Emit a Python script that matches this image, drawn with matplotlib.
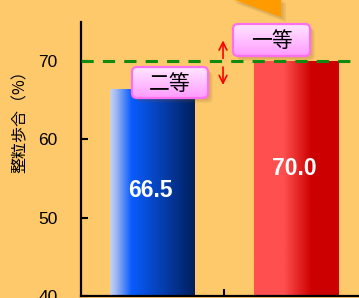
import numpy as np
import matplotlib.pyplot as plt
from matplotlib.colors import LinearSegmentedColormap
from matplotlib.patches import FancyBboxPatch, Polygon

grades = ['二等', '一等']
values = [66.5, 70.0]
standard = 70
yticks = [40, 50, 60, 70]

bg = '#fec96a'
blue_cmap = LinearSegmentedColormap.from_list(
    'blue', [(0, '#c6d2ee'), (0.06, '#a9bdf2'), (0.25, '#0a5cff'), (1, '#001f5c')])
red_cmap = LinearSegmentedColormap.from_list(
    'red', [(0, '#ff4f4f'), (0.35, '#ff4f4f'), (0.68, '#cc0000'), (1, '#cc0000')])
pink_cmap = LinearSegmentedColormap.from_list('pink', ['#ff9bff', '#ffe6ff'])

fig = plt.figure(figsize=(3.59, 2.98), dpi=100, facecolor=bg)
ax = fig.add_axes([81 / 359, 2 / 298, 278 / 359, 274 / 298])
ax.set_facecolor(bg)

x = np.arange(len(values))
bars = ax.bar(x, [v - 40 for v in values], bottom=40, width=0.59, color='none', zorder=2)
grad = np.linspace(0, 1, 256).reshape(1, -1)
for bar, cmap in zip(bars, [blue_cmap, red_cmap]):
    x0, y0 = bar.get_x(), bar.get_y()
    im = ax.imshow(grad, cmap=cmap, aspect='auto', zorder=2,
                   extent=[x0, x0 + bar.get_width(), y0, y0 + bar.get_height()])
    im.set_clip_path(bar)

for xi, v in zip(x, values):
    ax.text(xi - 0.01, v * 0.805, f'{v:.1f}', color='white', fontsize=16.5, fontweight='bold',
            family='Liberation Sans', ha='center', va='center', zorder=4)

ax.axhline(standard, color='#108a10', lw=2.2, dashes=(4, 3), zorder=3)
ax.annotate('', xy=(0.493, 73.0), xytext=(0.493, 70.0),
            arrowprops=dict(arrowstyle='->', color='red', lw=1.2, mutation_scale=14), zorder=4)
ax.annotate('', xy=(0.493, 66.6), xytext=(0.493, 69.6),
            arrowprops=dict(arrowstyle='->', color='red', lw=1.2, mutation_scale=14), zorder=4)

ax.set_xlim(-0.493, 1.437)
ax.set_ylim(40, 75)
ax.set_yticks(yticks)
ax.set_yticklabels([str(t) for t in yticks], family='Liberation Sans', fontsize=12.5)
ax.set_xticks([0.5])
ax.set_xticklabels([])
ax.tick_params(axis='y', direction='in', length=5, width=1.5, pad=17)
ax.tick_params(axis='x', direction='in', length=5, width=1.5)
for s in ['top', 'right']:
    ax.spines[s].set_visible(False)
for s in ['left', 'bottom']:
    ax.spines[s].set_linewidth(1.6)
ax.spines['left'].set_bounds(40, 75)

fig.text(20 / 359, 1 - 118 / 298, '整粒歩合（%）', rotation=90, fontsize=11.5,
         family=['Noto Sans CJK JP', 'DejaVu Sans'], ha='center', va='center')

# overlay in pixel coordinates for callouts
ov = fig.add_axes([0, 0, 1, 1])
ov.set_xlim(0, 359)
ov.set_ylim(298, 0)
ov.axis('off')
ov.patch.set_alpha(0)

# orange callout tip with soft shadow
tri = [(230, -2), (281, -2), (281, 17)]
for k in range(6, 0, -1):
    ov.add_patch(Polygon([(px + k * 0.9, py + k * 0.9) for px, py in tri],
                         closed=True, color='#8a6a30', alpha=0.06, lw=0))
ov.add_patch(Polygon(tri, closed=True, color='#ff9a00', lw=0))

boxes = [(132, 67, 76, 31, grades[0]), (233, 24, 77, 32, grades[1])]
for bx, by, bw, bh, label in boxes:
    for k in range(5, 0, -1):
        ov.add_patch(FancyBboxPatch((bx + k, by + k), bw, bh, boxstyle='round,pad=0,rounding_size=5',
                                    color='#7a5a30', alpha=0.07, lw=0))
    box = FancyBboxPatch((bx, by), bw, bh, boxstyle='round,pad=0,rounding_size=5',
                         facecolor='none', edgecolor='#ff70f0', lw=1.6, zorder=3)
    ov.add_patch(box)
    im = ov.imshow(grad.T, cmap=pink_cmap, aspect='auto', extent=[bx, bx + bw, by + bh, by],
                   origin='lower', zorder=2)
    im.set_clip_path(box)
    ov.text(bx + bw / 2, by + bh / 2 + 1, label, fontsize=15, family=['Noto Sans CJK JP', 'DejaVu Sans'],
            ha='center', va='center', color='black', zorder=4)
ov.set_xlim(0, 359)
ov.set_ylim(298, 0)

fig.savefig('out.png', dpi=100, facecolor=bg)
